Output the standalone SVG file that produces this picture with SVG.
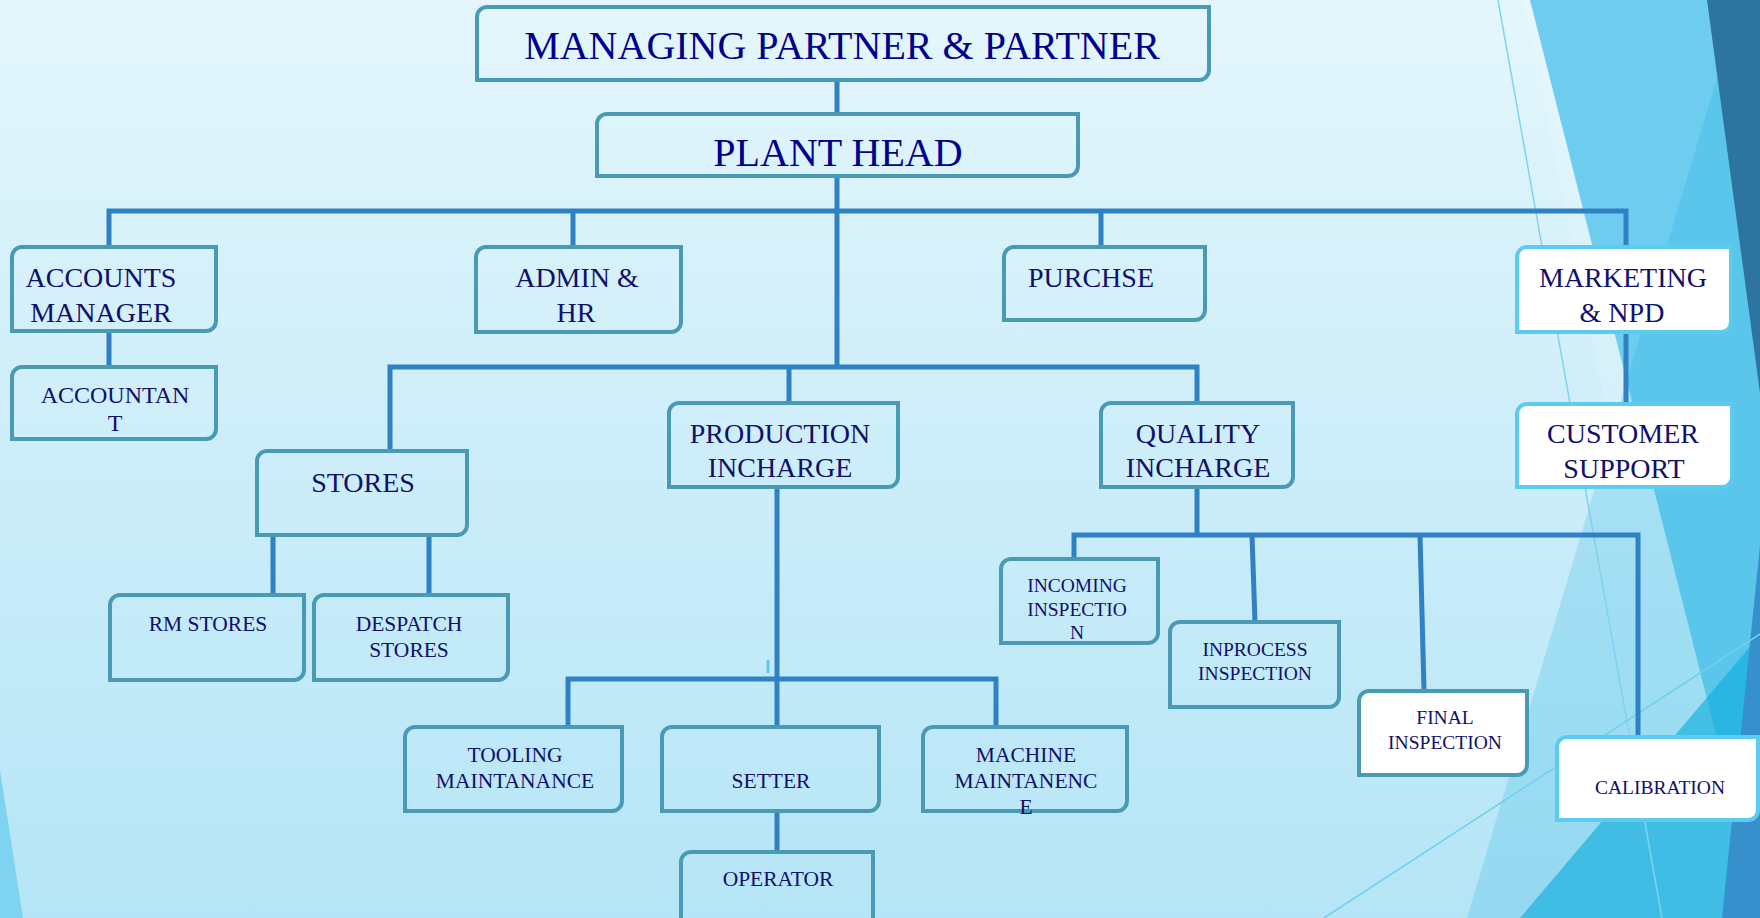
<svg xmlns="http://www.w3.org/2000/svg" width="1760" height="918" viewBox="0 0 1760 918">
<defs>
<linearGradient id="bg" x1="0" y1="0" x2="0" y2="1">
<stop offset="0" stop-color="#e4f6fc"/>
<stop offset="1" stop-color="#b5e5f6"/>
</linearGradient>
</defs>
<style>
.box{fill:none;stroke:#4a9ab5;stroke-width:4}
.wbox{fill:#ffffff;stroke:#5ccbef;stroke-width:4}
.fbox{fill:#ffffff;stroke:#4a9ab5;stroke-width:4}
.t{font-family:"Liberation Serif","Times New Roman",serif;fill:#10106c;text-anchor:middle}
.title{fill:#00008f}
.f28{font-size:28px}
.f24{font-size:24px}
.f21{font-size:21.5px}
.f19{font-size:19.5px}
#connectors path{fill:none;stroke:#2f81c3;stroke-width:5;stroke-linejoin:miter}
</style>
<g id="background">
<rect x="0" y="0" width="1760" height="918" fill="url(#bg)"/>
<polygon points="0,770 23,918 0,918" fill="#7ed4f0"/>
<polygon points="1530,0 1760,0 1760,908" fill="#6ecdee"/>
<polygon points="1523,0 1530,0 1640,430 1610,430" fill="#ffffff" opacity="0.12"/>
<polygon points="1740,0 1760,0 1760,918 1467,918" fill="#00a5dd" opacity="0.18"/>
<polygon points="1760,635 1760,918 1520,918" fill="#0facde" opacity="0.63"/>
<polygon points="1707,0 1760,0 1760,393" fill="#2e74a1"/>
<polygon points="1760,545 1760,918 1722,918" fill="#3590cc"/>
<line x1="1498" y1="0" x2="1662" y2="918" stroke="#7fd3f0" stroke-width="1.5"/>
<line x1="1324" y1="918" x2="1760" y2="634" stroke="#6fcff0" stroke-width="1.5"/>
</g>
<g id="connectors">
<path d="M837,80 V114"/>
<path d="M837,176 V367"/>
<path d="M109,247 V211 H1626 V247"/>
<path d="M573,211 V247"/>
<path d="M1101,211 V247"/>
<path d="M109,331 V367"/>
<path d="M1626,332 V404"/>
<path d="M390,451 V367 H1197 V403"/>
<path d="M789,367 V403"/>
<path d="M273,535 V595"/>
<path d="M429,535 V595"/>
<path d="M777,487 V727"/>
<path d="M568,727 V679 H996 V727"/>
<path d="M777,811 V852"/>
<path d="M1197,487 V535"/>
<path d="M1074,559 V535 H1638 V737"/>
<path d="M1252,535 L1255,622"/>
<path d="M1420,535 L1424,691"/>
<line x1="768" y1="660" x2="768" y2="673" stroke="#5fc8ee" stroke-width="3"/>
</g>
<g id="n-managing">
<path class="box" d="M487,7 H1209 V70 A10,10 0 0 1 1199,80 H477 V17 A10,10 0 0 1 487,7 Z"/>
<text class="t title" x="842" y="59" font-size="40">MANAGING PARTNER &amp; PARTNER</text>
</g>
<g id="n-planthead">
<path class="box" d="M607,114 H1078 V166 A10,10 0 0 1 1068,176 H597 V124 A10,10 0 0 1 607,114 Z"/>
<text class="t title" x="838" y="166" font-size="40">PLANT HEAD</text>
</g>
<g id="n-accmgr">
<path class="box" d="M22,247 H216 V321 A10,10 0 0 1 206,331 H12 V257 A10,10 0 0 1 22,247 Z"/>
<text class="t f28" x="101" y="287">ACCOUNTS</text>
<text class="t f28" x="101" y="322">MANAGER</text>
</g>
<g id="n-admin">
<path class="box" d="M486,247 H681 V322 A10,10 0 0 1 671,332 H476 V257 A10,10 0 0 1 486,247 Z"/>
<text class="t f28" x="577" y="287">ADMIN &amp;</text>
<text class="t f28" x="576" y="322">HR</text>
</g>
<g id="n-purchse">
<path class="box" d="M1014,247 H1205 V310 A10,10 0 0 1 1195,320 H1004 V257 A10,10 0 0 1 1014,247 Z"/>
<text class="t f28" x="1091" y="287">PURCHSE</text>
</g>
<g id="n-marketing">
<path class="wbox" d="M1527,247 H1731 V322 A10,10 0 0 1 1721,332 H1517 V257 A10,10 0 0 1 1527,247 Z"/>
<text class="t f28" x="1623" y="287">MARKETING</text>
<text class="t f28" x="1622" y="322">&amp; NPD</text>
</g>
<g id="n-accountant">
<path class="box" d="M22,367 H216 V429 A10,10 0 0 1 206,439 H12 V377 A10,10 0 0 1 22,367 Z"/>
<text class="t f24" x="115" y="403">ACCOUNTAN</text>
<text class="t f24" x="115" y="431">T</text>
</g>
<g id="n-stores">
<path class="box" d="M267,451 H467 V525 A10,10 0 0 1 457,535 H257 V461 A10,10 0 0 1 267,451 Z"/>
<text class="t f28" x="363" y="492">STORES</text>
</g>
<g id="n-production">
<path class="box" d="M679,403 H898 V477 A10,10 0 0 1 888,487 H669 V413 A10,10 0 0 1 679,403 Z"/>
<text class="t f28" x="780" y="443">PRODUCTION</text>
<text class="t f28" x="780" y="477">INCHARGE</text>
</g>
<g id="n-quality">
<path class="box" d="M1111,403 H1293 V477 A10,10 0 0 1 1283,487 H1101 V413 A10,10 0 0 1 1111,403 Z"/>
<text class="t f28" x="1198" y="443">QUALITY</text>
<text class="t f28" x="1198" y="477">INCHARGE</text>
</g>
<g id="n-customer">
<path class="wbox" d="M1527,404 H1732 V477 A10,10 0 0 1 1722,487 H1517 V414 A10,10 0 0 1 1527,404 Z"/>
<text class="t f28" x="1623" y="443">CUSTOMER</text>
<text class="t f28" x="1624" y="478">SUPPORT</text>
</g>
<g id="n-rmstores">
<path class="box" d="M120,595 H304 V670 A10,10 0 0 1 294,680 H110 V605 A10,10 0 0 1 120,595 Z"/>
<text class="t f21" x="208" y="631">RM STORES</text>
</g>
<g id="n-despatch">
<path class="box" d="M324,595 H508 V670 A10,10 0 0 1 498,680 H314 V605 A10,10 0 0 1 324,595 Z"/>
<text class="t f21" x="409" y="631">DESPATCH</text>
<text class="t f21" x="409" y="657">STORES</text>
</g>
<g id="n-incoming">
<path class="box" d="M1011,559 H1158 V633 A10,10 0 0 1 1148,643 H1001 V569 A10,10 0 0 1 1011,559 Z"/>
<text class="t f19" x="1077" y="592">INCOMING</text>
<text class="t f19" x="1077" y="616">INSPECTIO</text>
<text class="t f19" x="1077" y="639">N</text>
</g>
<g id="n-inprocess">
<path class="box" d="M1180,622 H1339 V697 A10,10 0 0 1 1329,707 H1170 V632 A10,10 0 0 1 1180,622 Z"/>
<text class="t f19" x="1255" y="656">INPROCESS</text>
<text class="t f19" x="1255" y="680">INSPECTION</text>
</g>
<g id="n-final">
<path class="fbox" d="M1369,691 H1527 V765 A10,10 0 0 1 1517,775 H1359 V701 A10,10 0 0 1 1369,691 Z"/>
<text class="t f19" x="1445" y="724">FINAL</text>
<text class="t f19" x="1445" y="749">INSPECTION</text>
</g>
<g id="n-calibration">
<path class="wbox" d="M1567,737 H1758 V810 A10,10 0 0 1 1748,820 H1557 V747 A10,10 0 0 1 1567,737 Z"/>
<text class="t f19" x="1660" y="794">CALIBRATION</text>
</g>
<g id="n-tooling">
<path class="box" d="M415,727 H622 V801 A10,10 0 0 1 612,811 H405 V737 A10,10 0 0 1 415,727 Z"/>
<text class="t f21" x="515" y="762">TOOLING</text>
<text class="t f21" x="515" y="788">MAINTANANCE</text>
</g>
<g id="n-setter">
<path class="box" d="M672,727 H879 V801 A10,10 0 0 1 869,811 H662 V737 A10,10 0 0 1 672,727 Z"/>
<text class="t f21" x="771" y="788">SETTER</text>
</g>
<g id="n-machine">
<path class="box" d="M933,727 H1127 V801 A10,10 0 0 1 1117,811 H923 V737 A10,10 0 0 1 933,727 Z"/>
<text class="t f21" x="1026" y="762">MACHINE</text>
<text class="t f21" x="1026" y="788">MAINTANENC</text>
<text class="t f21" x="1026" y="814">E</text>
</g>
<g id="n-operator">
<path class="box" d="M691,852 H873 V920 A10,10 0 0 1 863,930 H681 V862 A10,10 0 0 1 691,852 Z"/>
<text class="t f21" x="778" y="886">OPERATOR</text>
</g>
</svg>
